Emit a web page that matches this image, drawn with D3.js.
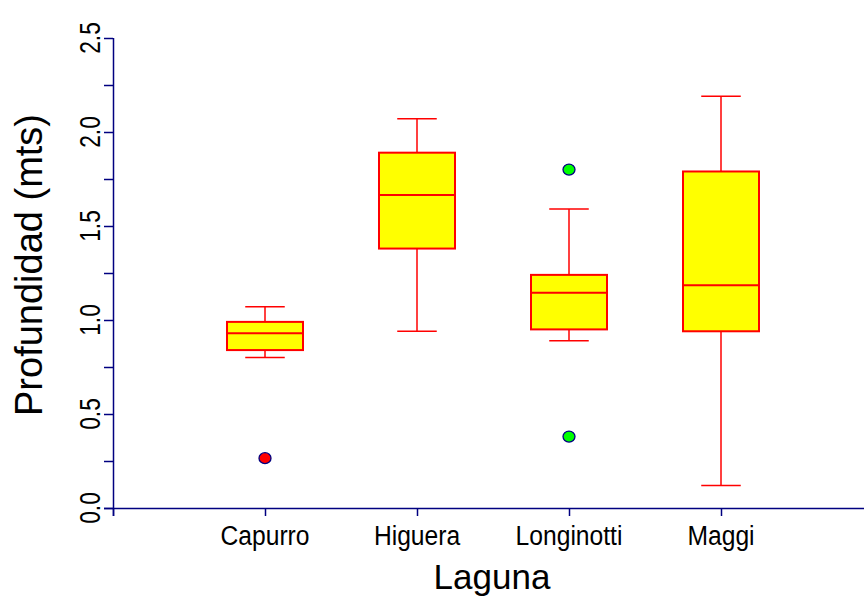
<!DOCTYPE html>
<html lang="es">
<head>
<meta charset="utf-8">
<title>Profundidad por laguna</title>
<script src="https://cdn.jsdelivr.net/npm/d3@7"></script>
<style>
  body { margin: 0; background: #fff; }
  svg text { font-family: "Liberation Sans", Arial, sans-serif; fill: #000; }
</style>
</head>
<body>
<script>
// data
var lagunas = ["Capurro", "Higuera", "Longinotti", "Maggi"];
var whiskLow  = [0.80, 0.94, 0.89, 0.12];
var q1        = [0.84, 1.38, 0.95, 0.94];
var medians   = [0.93, 1.665, 1.145, 1.185];
var q3        = [0.99, 1.89, 1.24, 1.79];
var whiskHigh = [1.07, 2.07, 1.59, 2.19];
var outliers  = [[0.265], [], [1.80, 0.38], []];
var outlierColors = ["#ff0000", "#00ff00", "#00ff00", "#00ff00"];
var yTicks = [0, 0.5, 1.0, 1.5, 2.0, 2.5];
var yMinor = [0.25, 0.75, 1.25, 1.75, 2.25];

var w = 864, h = 598;
var svg = d3.select("body").append("svg")
  .attr("width", w).attr("height", h);

var x = d3.scaleLinear().domain([0, 5]).range([113, 873]);
var y = d3.scaleLinear().domain([0, 2.5]).range([508, 38]);
var navy = "#000080", red = "#ff0000";

// axes
var xAxis = d3.axisBottom(x).tickValues([0, 1, 2, 3, 4]).tickSize(8).tickFormat("").tickSizeOuter(0);
var gx = svg.append("g").attr("transform", "translate(0," + y(0) + ")").call(xAxis);
gx.select(".domain").attr("d", "M" + (x(0) - 9) + ",0.5H" + w);

var yAxis = d3.axisLeft(y).tickValues(yTicks.concat(yMinor)).tickSize(9).tickFormat("").tickSizeOuter(0);
var gy = svg.append("g").attr("transform", "translate(" + x(0) + ",0)").call(yAxis);
gy.select(".domain").attr("d", "M0.5," + y(2.5) + "V" + (y(0) + 8));

svg.selectAll(".domain, .tick line")
  .attr("stroke", navy).attr("stroke-width", 1.5);

// tick labels
svg.selectAll(".xlab").data(lagunas).enter().append("text")
  .attr("transform", function(d, i) { return "translate(" + x(i + 1) + ",545) scale(0.88,1)"; })
  .attr("text-anchor", "middle")
  .style("font-size", "28px")
  .text(function(d) { return d; });

svg.selectAll(".ylab").data(yTicks).enter().append("text")
  .attr("transform", function(d) { return "translate(100," + y(d) + ") rotate(-90) scale(0.78,1)"; })
  .attr("text-anchor", "middle")
  .style("font-size", "29px")
  .text(function(d) { return d.toFixed(1); });

// titles
svg.append("text")
  .attr("x", 492).attr("y", 589)
  .attr("text-anchor", "middle")
  .style("font-size", "35px")
  .text("Laguna");

svg.append("text")
  .attr("transform", "translate(42,265) rotate(-90)")
  .attr("text-anchor", "middle")
  .style("font-size", "38px")
  .text("Profundidad (mts)");

// boxes
var boxW = x(0.5) - x(0), capW = x(0.26) - x(0);
var g = svg.selectAll(".box").data(lagunas).enter().append("g");

g.append("line")
  .attr("x1", function(d, i) { return x(i + 1); }).attr("x2", function(d, i) { return x(i + 1); })
  .attr("y1", function(d, i) { return y(whiskLow[i]); }).attr("y2", function(d, i) { return y(whiskHigh[i]); })
  .attr("stroke", red).attr("stroke-width", 1.5);

[whiskLow, whiskHigh].forEach(function(arr) {
  g.append("line")
    .attr("x1", function(d, i) { return x(i + 1) - capW / 2; })
    .attr("x2", function(d, i) { return x(i + 1) + capW / 2; })
    .attr("y1", function(d, i) { return y(arr[i]); }).attr("y2", function(d, i) { return y(arr[i]); })
    .attr("stroke", red).attr("stroke-width", 1.5);
});

g.append("rect")
  .attr("x", function(d, i) { return x(i + 1) - boxW / 2; })
  .attr("width", boxW)
  .attr("y", function(d, i) { return y(q3[i]); })
  .attr("height", function(d, i) { return y(q1[i]) - y(q3[i]); })
  .attr("fill", "#ffff00").attr("stroke", red).attr("stroke-width", 2);

g.append("line")
  .attr("x1", function(d, i) { return x(i + 1) - boxW / 2; })
  .attr("x2", function(d, i) { return x(i + 1) + boxW / 2; })
  .attr("y1", function(d, i) { return y(medians[i]); }).attr("y2", function(d, i) { return y(medians[i]); })
  .attr("stroke", red).attr("stroke-width", 2);

g.each(function(d, i) {
  d3.select(this).selectAll("ellipse").data(outliers[i]).enter().append("ellipse")
    .attr("cx", x(i + 1)).attr("cy", function(v) { return y(v); })
    .attr("rx", 6).attr("ry", 5.5)
    .attr("fill", outlierColors[i]).attr("stroke", navy).attr("stroke-width", 1.3);
});
</script>
</body>
</html>
